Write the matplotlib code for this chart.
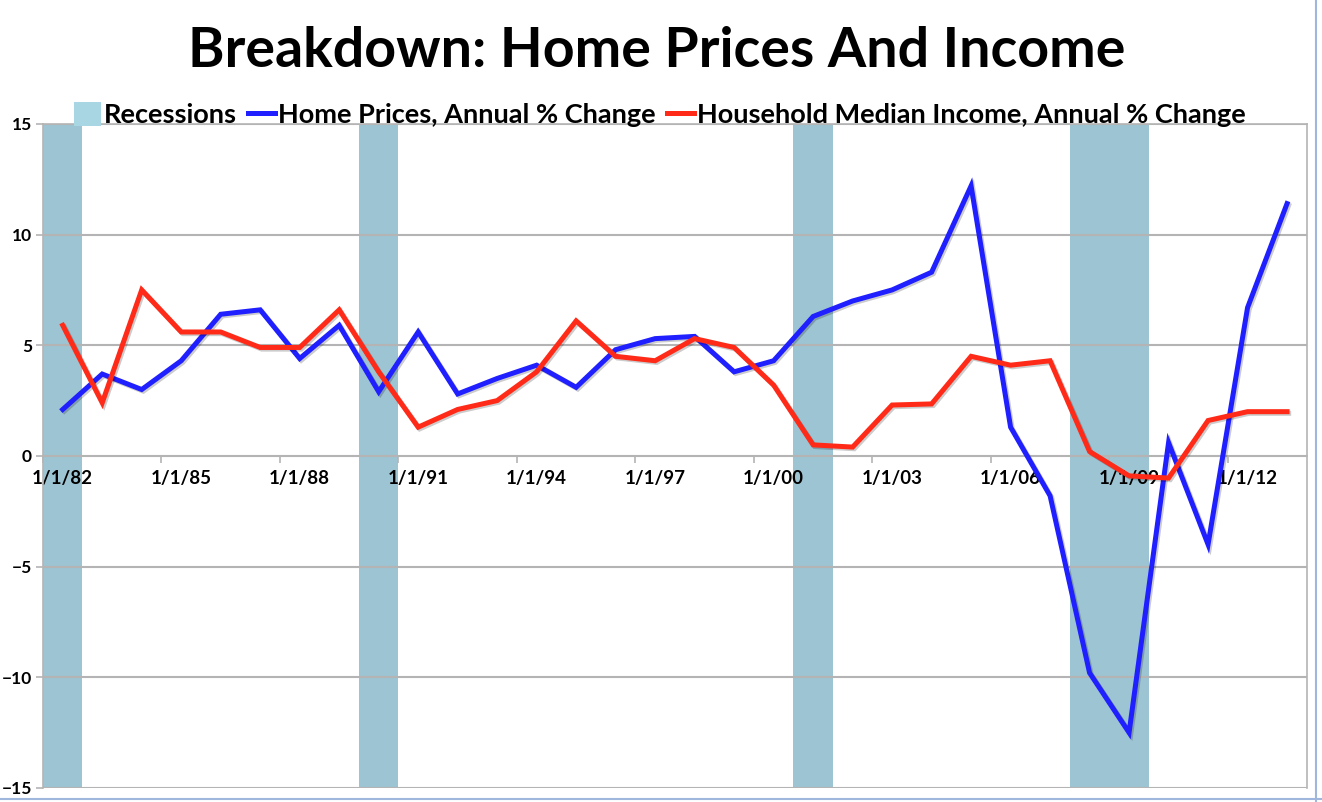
import matplotlib.pyplot as plt
import matplotlib.patheffects as pe
from matplotlib.patches import Patch
from matplotlib.lines import Line2D
import numpy as np

# Data (annual, 1982-2013)
years = list(range(1982, 2014))
home_prices = [2.1, 3.7, 3.0, 4.3, 6.4, 6.6, 4.4, 5.9, 2.9, 5.6,
               2.8, 3.5, 4.1, 3.1, 4.8, 5.3, 5.4, 3.8, 4.3, 6.3,
               7.0, 7.5, 8.3, 12.2, 1.3, -1.8, -9.8, -12.5, 0.6, -4.0,
               6.7, 11.4]
income = [5.9, 2.4, 7.5, 5.6, 5.6, 4.9, 4.9, 6.6, 3.8, 1.3,
          2.1, 2.5, 3.8, 6.1, 4.5, 4.3, 5.3, 4.9, 3.2, 0.5,
          0.4, 2.3, 2.35, 4.5, 4.1, 4.3, 0.2, -0.9, -1.0, 1.6,
          2.0, 2.0]
recession = [1, 0, 0, 0, 0, 0, 0, 0, 1, 0,
             0, 0, 0, 0, 0, 0, 0, 0, 0, 1,
             0, 0, 0, 0, 0, 0, 1, 1, 0, 0,
             0, 0]
tick_years = years[::3]
tick_labels = ['1/1/%02d' % (y % 100) for y in tick_years]

plt.rcParams['font.family'] = ['Lato', 'DejaVu Sans']
plt.rcParams['font.weight'] = 'bold'

blue = '#1f1fff'
red = '#ff2a17'
rec_color = '#9dc4d2'
grid_color = '#b4b4b4'

fig = plt.figure(figsize=(13.22, 8.02), dpi=100)
ax = fig.add_axes([0.0325, 0.0175, 0.956, 0.828])

x = np.arange(len(years))
ymin, ymax = -15, 15

ax.bar(x, [r * (ymax - ymin) for r in recession], bottom=ymin, width=1.0,
       color=rec_color, zorder=1)

shadow = [pe.SimpleLineShadow(offset=(1.2, -1.2), alpha=0.2), pe.Normal()]
ax.plot(x, home_prices, color=blue, lw=3.6, zorder=3, path_effects=shadow,
        solid_joinstyle='miter')
ax.plot(x, income, color=red, lw=3.6, zorder=4, path_effects=shadow,
        solid_joinstyle='miter')

ax.set_xlim(-0.5, len(years) - 0.5)
ax.set_ylim(ymin, ymax)
ax.set_yticks(range(-15, 16, 5))
ax.yaxis.grid(True, color=grid_color, lw=1.5)
for gl in ax.get_ygridlines():
    gl.set_zorder(2)
ax.tick_params(axis='y', length=5, color=grid_color, width=1.2, pad=3,
               labelsize=12.5)

# category axis sits on the zero line
ax.spines['bottom'].set_position(('data', 0))
for s in ax.spines.values():
    s.set_color(grid_color)
    s.set_linewidth(1.2)
ax.set_xticks([years.index(y) for y in tick_years])
ax.set_xticklabels(tick_labels, fontsize=13.5)
ax.tick_params(axis='x', which='major', length=0, pad=10)
ax.set_xticks(np.arange(-0.5, len(years), 3), minor=True)
ax.tick_params(axis='x', which='minor', length=5, color=grid_color, width=1.2)

fig.text(0.497, 0.937, 'Breakdown: Home Prices And Income', ha='center',
         va='center', fontsize=40, fontweight='bold')

handles = [Patch(facecolor='#a9d6e3', edgecolor='none'),
           Line2D([], [], color=blue, lw=3.6),
           Line2D([], [], color=red, lw=3.6)]
labels = ['Recessions', 'Home Prices, Annual % Change',
          'Household Median Income, Annual % Change']
fig.legend(handles, labels, loc='center', bbox_to_anchor=(0.499, 0.857),
           ncol=3, frameon=False, fontsize=19.5, handlelength=1.0,
           handleheight=1.0, handletextpad=0.12, columnspacing=0.4)

# screenshot frame (right and bottom edges)
fig.add_artist(Line2D([0.9955, 0.9955], [0.0, 1.0], transform=fig.transFigure,
                      color='#9fb7dc', lw=1.5))
fig.add_artist(Line2D([0.0, 1.0], [0.004, 0.004], transform=fig.transFigure,
                      color='#9fb7dc', lw=1.5))

fig.savefig('out.png', dpi=100)
